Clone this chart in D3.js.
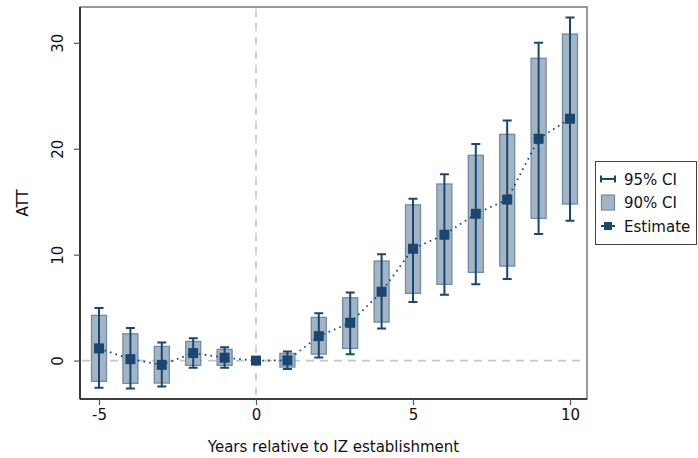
<!DOCTYPE html>
<html>
<head>
<meta charset="utf-8">
<script src="https://cdn.jsdelivr.net/npm/d3@7"></script>
<style>
  html, body { margin: 0; padding: 0; background: #fff; }
  svg { display: block; font-family: "DejaVu Sans", Verdana, sans-serif; }
</style>
</head>
<body>
<svg id="chart" width="698" height="458"></svg>
<script>
// Event-study estimates by year relative to IZ establishment
const years    = [-5, -4, -3, -2, -1, 0, 1, 2, 3, 4, 5, 6, 7, 8, 9, 10];
const estimate = [1.15, 0.14, -0.4, 0.71, 0.27, 0, 0.02, 2.31, 3.57, 6.5, 10.56, 11.88, 13.86, 15.2, 20.94, 22.83];
// 95% confidence interval (capped spikes); reference year has none
const ci95Low  = [-2.57, -2.63, -2.44, -0.68, -0.68, null, -0.8, 0.3, 0.61, 3.04, 5.52, 6.21, 7.2, 7.7, 11.95, 13.2];
const ci95High = [4.96, 3.07, 1.72, 2.12, 1.27, null, 0.87, 4.46, 6.44, 10.03, 15.29, 17.58, 20.44, 22.67, 30.0, 32.4];
// 90% confidence interval (bars)
const ci90Low  = [-1.96, -2.15, -2.12, -0.45, -0.45, null, -0.61, 0.61, 1.15, 3.64, 6.35, 7.2, 8.33, 8.92, 13.43, 14.78];
const ci90High = [4.27, 2.53, 1.34, 1.81, 1.06, null, 0.68, 4.08, 5.93, 9.4, 14.7, 16.67, 19.38, 21.36, 28.54, 30.83];

const xTicks = [-5, 0, 5, 10];
const yTicks = [0, 10, 20, 30];
const legendLabels = ["95% CI", "90% CI", "Estimate"];

const navy = "#1a476f";
const barFill = "#a3b5c5";
const barStroke = "#6f8ca7";
const refGray = "#c8c8c8";

const svg = d3.select("#chart");
const plot = { left: 80, right: 587, top: 7, bottom: 399 };

const x = d3.scaleLinear().domain([-5, 10]).range([99, 570]);
const y = d3.scaleLinear().domain([0, 30]).range([360.6, 42.8]);

const rows = years.map((yr, i) => ({
  yr, est: estimate[i],
  lo95: ci95Low[i], hi95: ci95High[i],
  lo90: ci90Low[i], hi90: ci90High[i]
}));

// plot region outline
svg.append("rect")
  .attr("x", plot.left).attr("y", plot.top)
  .attr("width", plot.right - plot.left).attr("height", plot.bottom - plot.top)
  .attr("fill", "none").attr("stroke", "#555").attr("stroke-width", 1.2);

// reference lines at zero
svg.append("line")
  .attr("x1", plot.left + 2).attr("x2", plot.right - 2)
  .attr("y1", y(0)).attr("y2", y(0))
  .attr("stroke", refGray).attr("stroke-width", 1.6)
  .attr("stroke-dasharray", "8,6");
svg.append("line")
  .attr("x1", x(0)).attr("x2", x(0))
  .attr("y1", plot.top + 2).attr("y2", plot.bottom)
  .attr("stroke", refGray).attr("stroke-width", 1.6)
  .attr("stroke-dasharray", "8,6");

// axes (plain hyphen for negative labels)
const fmt = d => String(d);
const xAxis = d3.axisBottom(x).tickValues(xTicks).tickSize(6).tickPadding(4).tickFormat(fmt);
const gx = svg.append("g").attr("transform", `translate(0,${plot.bottom})`).call(xAxis);
gx.select(".domain").attr("d", `M${plot.left},0H${plot.right}`).attr("stroke", "#222").attr("stroke-width", 1.6);
gx.selectAll(".tick line").attr("stroke", "#555").attr("stroke-width", 1.2);
gx.selectAll(".tick text").attr("font-size", 15).attr("fill", "#111")
  .attr("font-family", "DejaVu Sans, Verdana, sans-serif");

const yAxis = d3.axisLeft(y).tickValues(yTicks).tickSize(6).tickPadding(0).tickFormat(fmt);
const gy = svg.append("g").attr("transform", `translate(${plot.left},0)`).call(yAxis);
gy.select(".domain").attr("d", `M0,${plot.top}V${plot.bottom}`).attr("stroke", "#222").attr("stroke-width", 1.6);
gy.selectAll(".tick line").attr("stroke", "#555").attr("stroke-width", 1.2);
gy.selectAll(".tick text")
  .attr("font-size", 15).attr("fill", "#111")
  .attr("font-family", "DejaVu Sans, Verdana, sans-serif")
  .attr("x", null).attr("dy", null)
  .attr("text-anchor", "middle")
  .attr("transform", "translate(-17,0) rotate(-90)");

// axis titles
svg.append("text")
  .attr("x", (plot.left + plot.right) / 2).attr("y", 452)
  .attr("text-anchor", "middle").attr("font-size", 15).attr("fill", "#111")
  .text("Years relative to IZ establishment");
svg.append("text")
  .attr("transform", `translate(28,${(plot.top + plot.bottom) / 2}) rotate(-90)`)
  .attr("text-anchor", "middle").attr("font-size", 15).attr("fill", "#111")
  .text("ATT");

const ciRows = rows.filter(d => d.lo95 !== null);
const barW = 15, capW = 9, markSize = 10;

// 90% CI bars
svg.append("g").selectAll("rect").data(ciRows).join("rect")
  .attr("x", d => x(d.yr) - barW / 2)
  .attr("width", barW)
  .attr("y", d => y(d.hi90))
  .attr("height", d => y(d.lo90) - y(d.hi90))
  .attr("fill", barFill).attr("stroke", barStroke).attr("stroke-width", 1.3);

// 95% CI spikes with caps
const spikes = svg.append("g").attr("stroke", navy).attr("stroke-width", 2).attr("fill", "none");
spikes.selectAll("path").data(ciRows).join("path")
  .attr("d", d => {
    const cx = x(d.yr), t = y(d.hi95), b = y(d.lo95);
    return `M${cx - capW / 2},${t}H${cx + capW / 2}M${cx},${t}V${b}M${cx - capW / 2},${b}H${cx + capW / 2}`;
  });

// dotted connecting line
svg.append("path").datum(rows)
  .attr("d", d3.line().x(d => x(d.yr)).y(d => y(d.est)))
  .attr("fill", "none").attr("stroke", navy).attr("stroke-width", 1.8)
  .attr("stroke-dasharray", "1.6,4.2");

// point estimates
svg.append("g").selectAll("rect").data(rows).join("rect")
  .attr("x", d => x(d.yr) - markSize / 2)
  .attr("y", d => y(d.est) - markSize / 2)
  .attr("width", markSize).attr("height", markSize)
  .attr("fill", navy);

// legend
const lg = svg.append("g");
lg.append("rect").attr("x", 595.5).attr("y", 161.5).attr("width", 101).attr("height", 83)
  .attr("fill", "#fff").attr("stroke", "#444").attr("stroke-width", 1);
const ly = [179, 202, 226];
// 95% CI symbol
lg.append("path")
  .attr("d", `M601,${ly[0] - 3.5}V${ly[0] + 3.5}M601,${ly[0]}H615M615,${ly[0] - 3.5}V${ly[0] + 3.5}`)
  .attr("stroke", navy).attr("stroke-width", 2).attr("fill", "none");
// 90% CI symbol
lg.append("rect").attr("x", 601.5).attr("y", ly[1] - 7).attr("width", 13).attr("height", 15)
  .attr("fill", barFill).attr("stroke", barStroke).attr("stroke-width", 1.2);
// estimate symbol
lg.append("line").attr("x1", 601).attr("x2", 615).attr("y1", ly[2]).attr("y2", ly[2])
  .attr("stroke", navy).attr("stroke-width", 2);
lg.append("rect").attr("x", 604).attr("y", ly[2] - 4).attr("width", 8).attr("height", 8).attr("fill", navy);
lg.selectAll("text.lbl").data(legendLabels).join("text")
  .attr("class", "lbl")
  .attr("x", 624).attr("y", (d, i) => ly[i] + 5.5)
  .attr("font-size", 15).attr("fill", "#111")
  .text(d => d);
</script>
</body>
</html>
